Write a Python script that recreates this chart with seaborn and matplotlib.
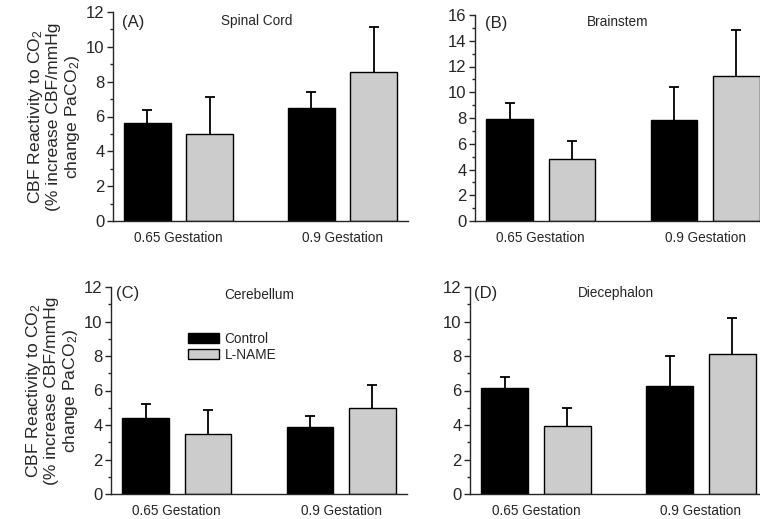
import pandas as pd
import matplotlib
matplotlib.use("Agg")
import matplotlib.pyplot as plt
import seaborn as sns
from matplotlib.ticker import MultipleLocator

# === DATA ===
gestation = ["0.65 Gestation", "0.9 Gestation"]
groups = ["Control", "L-NAME"]

# mean CBF reactivity to CO2 and upper error (SD) per gestation age
spinal_control = [5.65, 6.48]
spinal_control_err = [0.72, 0.90]
spinal_lname = [5.02, 8.56]
spinal_lname_err = [2.10, 2.57]

brainstem_control = [7.90, 7.85]
brainstem_control_err = [1.30, 2.55]
brainstem_lname = [4.83, 11.30]
brainstem_lname_err = [1.40, 3.50]

cerebellum_control = [4.40, 3.90]
cerebellum_control_err = [0.83, 0.62]
cerebellum_lname = [3.50, 5.00]
cerebellum_lname_err = [1.38, 1.33]

diecephalon_control = [6.13, 6.25]
diecephalon_control_err = [0.66, 1.75]
diecephalon_lname = [3.96, 8.10]
diecephalon_lname_err = [1.00, 2.10]

panels = [
    ("(A)", "Spinal Cord", spinal_control, spinal_lname, spinal_control_err, spinal_lname_err, 12),
    ("(B)", "Brainstem", brainstem_control, brainstem_lname, brainstem_control_err, brainstem_lname_err, 16),
    ("(C)", "Cerebellum", cerebellum_control, cerebellum_lname, cerebellum_control_err, cerebellum_lname_err, 12),
    ("(D)", "Diecephalon", diecephalon_control, diecephalon_lname, diecephalon_control_err, diecephalon_lname_err, 12),
]

# === STYLE ===
sns.set_style("ticks")
plt.rcParams["font.family"] = ["Liberation Sans", "DejaVu Sans"]
plt.rcParams["mathtext.default"] = "regular"
plt.rcParams["axes.linewidth"] = 1.0

W, H = 760, 519
fig = plt.figure(figsize=(W / 100, H / 100), dpi=100)

# axes rectangles in pixels: left, top, right, bottom
boxes = [
    (113, 12, 408, 221),
    (475, 15, 771, 221),
    (111, 287, 407, 494),
    (470, 287, 767, 494),
]
label_pos = [(0.03, 0.952), (0.035, 0.96), (0.017, 0.968), (0.013, 0.968)]
title_pos = [(0.488, 0.957), (0.482, 0.966), (0.5, 0.96), (0.49, 0.97)]

ylabel = "CBF Reactivity to CO$_2$\n(% increase CBF/mmHg\nchange PaCO$_2$)"
colors = {"Control": "black", "L-NAME": "#cccccc"}

for i, (tag, title, ctrl, lname, ctrl_err, lname_err, ymax) in enumerate(panels):
    l, t, r, b = boxes[i]
    ax = fig.add_axes([l / W, 1 - b / H, (r - l) / W, (b - t) / H])

    df = pd.DataFrame({
        "gestation": gestation * 2,
        "group": [groups[0]] * 2 + [groups[1]] * 2,
        "value": ctrl + lname,
    })
    sns.barplot(
        data=df, x="gestation", y="value", hue="group",
        order=gestation, hue_order=groups, palette=colors,
        saturation=1, edgecolor="black", linewidth=1.0,
        width=0.76, gap=0.25, errorbar=None, legend=(i == 2), ax=ax,
    )

    # upper-only error bars: stem from the bar top plus a cap at the end
    for cont, errs in zip(ax.containers, [ctrl_err, lname_err]):
        for bar, e in zip(cont, errs):
            x = bar.get_x() + bar.get_width() / 2
            h = bar.get_height()
            ax.errorbar(x, h, yerr=[[0], [e]], fmt="none", ecolor="black",
                        elinewidth=1.3, capsize=0, zorder=3)
            ax.plot([x], [h + e], marker="_", markersize=6.5, mew=1.3,
                    color="black", zorder=3)

    ax.set_xlim(-0.4, 1.4)
    ax.set_ylim(0, ymax)
    ax.yaxis.set_major_locator(MultipleLocator(2))
    ax.yaxis.set_minor_locator(MultipleLocator(1))
    ax.tick_params(axis="y", which="major", length=4, width=1, pad=2, labelsize=12)
    ax.tick_params(axis="y", which="minor", length=2.5, width=1)
    ax.tick_params(axis="x", length=0, pad=7.5, labelsize=9.8)
    sns.despine(ax=ax)

    ax.set_xlabel("")
    if i in (0, 2):
        ax.set_ylabel(ylabel, fontsize=12.6, linespacing=1.12)
        ax.yaxis.set_label_coords(-0.105, 0.5)
    else:
        ax.set_ylabel("")

    ax.text(*label_pos[i], tag, transform=ax.transAxes, fontsize=12, va="center", ha="left")
    ax.text(*title_pos[i], title, transform=ax.transAxes, fontsize=9.8, va="center", ha="center")

    if i == 2:
        sns.move_legend(
            ax, "upper left", bbox_to_anchor=(0.26, 0.785), frameon=False, title=None,
            fontsize=9.8, handlelength=2.3, handleheight=0.7, handletextpad=0.4,
            labelspacing=0.15, borderpad=0, borderaxespad=0,
        )

fig.savefig("out.png", dpi=100)
